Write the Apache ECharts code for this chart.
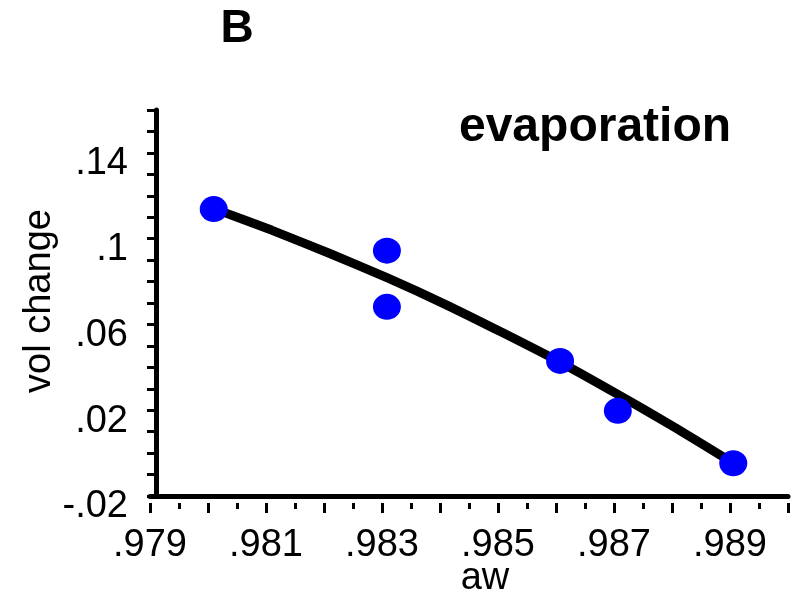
<!DOCTYPE html>
<html><head><meta charset="utf-8">
<script src="https://cdn.jsdelivr.net/npm/echarts@6/dist/echarts.min.js"></script>
<style>html,body{margin:0;padding:0;background:#fff}#c{width:791px;height:603px}</style>
</head><body><div id="c"></div>
<script>
// observed points
const awPoints  = [0.980, 0.983, 0.983, 0.986, 0.987, 0.989];
const volPoints = [0.1138, 0.0944, 0.0682, 0.0430, 0.0197, -0.0047];
// fitted curve
const fitAw  = [0.980, 0.981, 0.982, 0.983, 0.984, 0.985, 0.986, 0.987, 0.988, 0.989];
const fitVol = [0.1140, 0.1040, 0.0932, 0.0818, 0.0695, 0.0562, 0.0424, 0.0274, 0.0118, -0.0047];
// tick labels
const xTickValues = [0.979, 0.981, 0.983, 0.985, 0.987, 0.989];
const xTickLabels = ['.979', '.981', '.983', '.985', '.987', '.989'];
const yTickValues = [-0.02, 0.02, 0.06, 0.10, 0.14];
const yTickLabels = ['-.02', '.02', '.06', '.1', '.14'];

const FONT = '"Liberation Sans", Arial, Helvetica, sans-serif';
function labelFor(vals, labels) {
  return function (v) {
    for (let i = 0; i < vals.length; i++) if (Math.abs(v - vals[i]) < 1e-7) return labels[i];
    return '';
  };
}
const chart = echarts.init(document.getElementById('c'), null, {renderer: 'canvas'});
const black = '#000';
chart.setOption({
  animation: false,
  backgroundColor: '#fff',
  grid: [
    {left: 156, top: 110, width: 639, height: 386},
    {left: 150, top: 110, width: 639, height: 386}
  ],
  xAxis: [
    {gridIndex: 0, type: 'value', min: 0.979, max: 0.990, show: false},
    {gridIndex: 1, type: 'value', min: 0.979, max: 0.990, position: 'bottom',
     axisLine: {show: true, onZero: false, lineStyle: {color: black, width: 5}},
     axisTick: {show: false}, axisLabel: {show: false}, splitLine: {show: false}},
    {gridIndex: 1, type: 'value', min: 0.979, max: 0.990, interval: 0.001, position: 'bottom', offset: 7,
     axisLine: {show: false, onZero: false},
     axisTick: {show: true, length: 10, lineStyle: {color: black, width: 3}},
     minorTick: {show: true, splitNumber: 2, length: 6, lineStyle: {color: black, width: 3}},
     axisLabel: {formatter: labelFor(xTickValues, xTickLabels), margin: 24, fontSize: 38,
                 color: black, fontFamily: FONT, showMaxLabel: true},
     splitLine: {show: false}, minorSplitLine: {show: false}}
  ],
  yAxis: [
    {gridIndex: 0, type: 'value', min: -0.02, max: 0.16, interval: 0.01,
     axisLine: {show: true, onZero: false, lineStyle: {color: black, width: 5}},
     axisTick: {show: true, length: 9, lineStyle: {color: black, width: 3}},
     axisLabel: {formatter: labelFor(yTickValues, yTickLabels), margin: 28, fontSize: 38,
                 color: black, fontFamily: FONT, verticalAlign: 'top', lineHeight: 22},
     splitLine: {show: false}},
    {gridIndex: 1, type: 'value', min: -0.02, max: 0.16, show: false}
  ],
  series: [
    {type: 'line', xAxisIndex: 0, yAxisIndex: 0, data: fitAw.map((x, i) => [x, fitVol[i]]),
     showSymbol: false, symbol: 'none', smooth: 0.2, lineStyle: {color: black, width: 9}, z: 2},
    {type: 'scatter', xAxisIndex: 0, yAxisIndex: 0, data: awPoints.map((x, i) => [x, volPoints[i]]),
     symbol: 'circle', symbolSize: [28, 26], itemStyle: {color: '#0000ff', opacity: 1}, z: 3}
  ],
  graphic: [
    {type: 'text', x: 237, y: 29, style: {text: 'B', fontSize: 46, fontWeight: 'bold', fontFamily: FONT,
      fill: black, align: 'center', verticalAlign: 'middle'}},
    {type: 'text', x: 595, y: 128, style: {text: 'evaporation', fontSize: 48, fontWeight: 'bold', fontFamily: FONT,
      fill: black, align: 'center', verticalAlign: 'middle'}},
    {type: 'text', x: 485, y: 579, style: {text: 'aw', fontSize: 38, fontFamily: FONT,
      fill: black, align: 'center', verticalAlign: 'middle'}},
    {type: 'text', x: 40, y: 301, rotation: Math.PI / 2, style: {text: 'vol change', fontSize: 38, fontFamily: FONT,
      fill: black, align: 'center', verticalAlign: 'middle'}}
  ]
});
</script>
</body></html>
